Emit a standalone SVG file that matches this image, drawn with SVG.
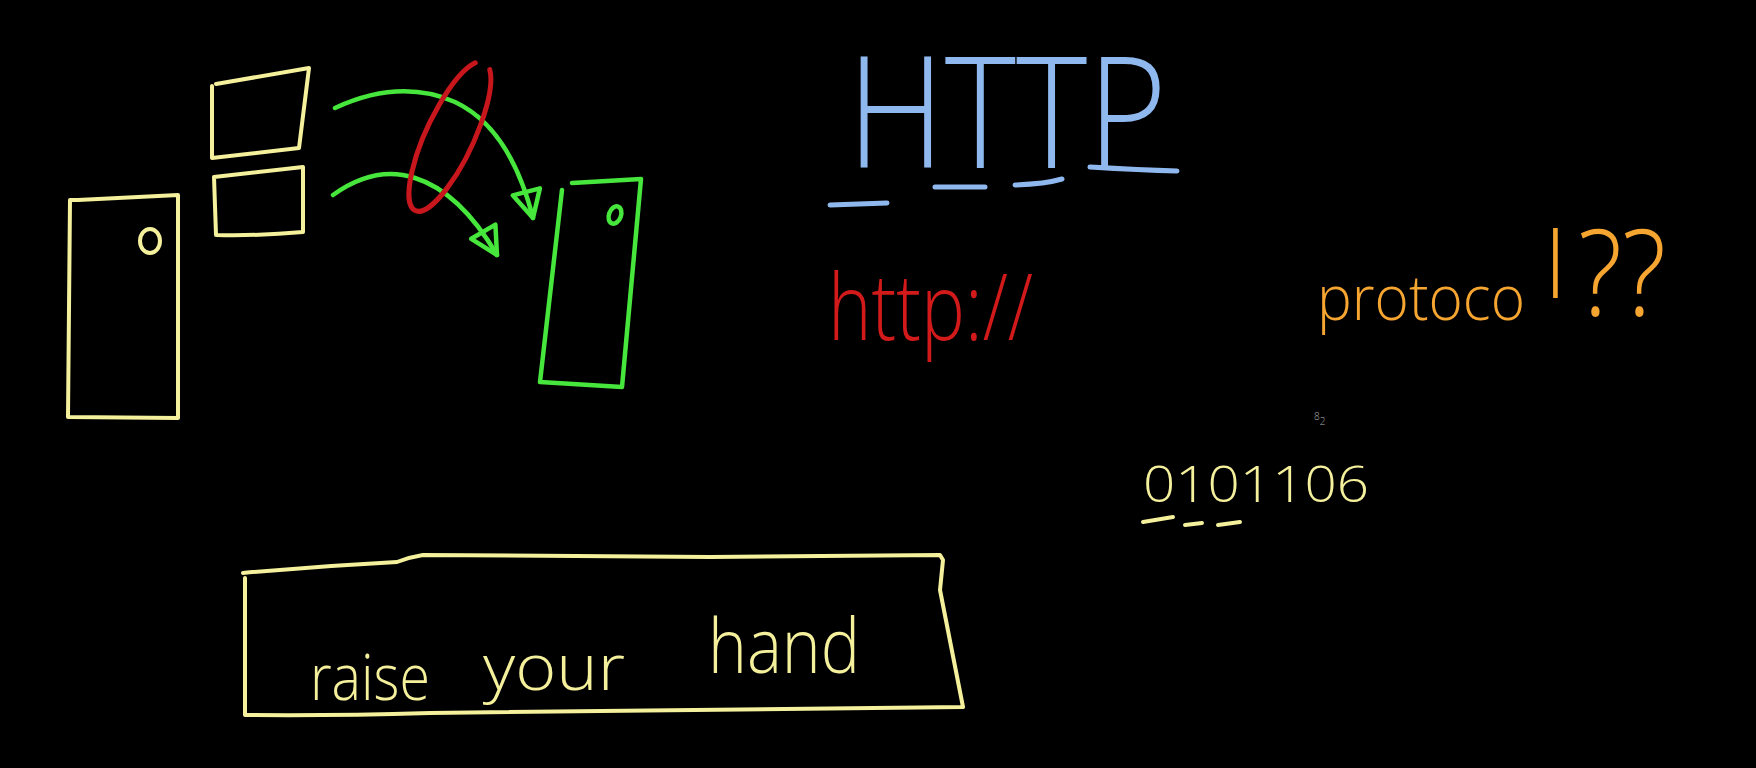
<svg xmlns="http://www.w3.org/2000/svg" width="1756" height="768" viewBox="0 0 1756 768">
<style>
.y{fill:none;stroke:#f4f09c;stroke-width:4;stroke-linecap:round;stroke-linejoin:round}
.g{fill:none;stroke:#46e63c;stroke-width:4.5;stroke-linecap:round;stroke-linejoin:round}
.r{fill:none;stroke:#c8161d;stroke-width:5;stroke-linecap:round}
.b{fill:none;stroke:#8fb8ee;stroke-width:5;stroke-linecap:round}
.t{font-family:"Open Sans","Liberation Sans",sans-serif;font-weight:300}
</style>
<defs>
<marker id="tri" viewBox="-32 -18 36 36" refX="0" refY="0" markerWidth="36" markerHeight="36" markerUnits="userSpaceOnUse" orient="auto" overflow="visible">
<path d="M-27,-14 L0,0 L-27,14 Z" fill="none" stroke="#46e63c" stroke-width="4.5" stroke-linejoin="round"/>
</marker>
</defs>
<rect width="1756" height="768" fill="#000"/>

<g id="left-device">
<path class="y" d="M78,200 L178,195 L178,418 L68,417 L70,200 Z"/>
<ellipse class="y" cx="150" cy="241" rx="10" ry="12" stroke-width="3.5"/>
</g>
<g id="packet-1">
<path class="y" d="M216,84 L309,68 L299,148 L212,158 L212,86"/>
</g>
<g id="packet-2">
<path class="y" d="M214,177 L303,167 L303,232 Q260,236 216,235 Z"/>
</g>
<g id="right-device">
<path class="g" d="M562,190 L540,382 L622,387 L641,179 L572,183"/>
<ellipse class="g" cx="615" cy="215" rx="6" ry="9" transform="rotate(20 615 215)" stroke-width="3"/>
</g>

<g id="connectors">
<path class="g" d="M335,108 Q400,78 455,102 Q510,128 533,218" marker-end="url(#tri)"/>
<path class="g" d="M333,195 Q375,165 415,178 Q460,192 497,255" marker-end="url(#tri)"/>
</g>

<g id="red-ellipse" transform="translate(450,136) rotate(25)">
<path class="r" d="M-8,-77 A24,82 0 1 0 8,-77"/>
</g>

<g id="http-title">
<text class="t" x="847" y="168" font-size="155" fill="#8fb8ee" textLength="320" lengthAdjust="spacingAndGlyphs">HTTP</text>
<path class="b" d="M830,205 L887,203 M935,187 L985,187 M1015,185 Q1045,184 1062,179 M1090,167 Q1140,170 1177,171"/>
</g>

<g id="http-url">
<text class="t" x="828" y="340" font-size="92" fill="#d21a1a" textLength="205" lengthAdjust="spacingAndGlyphs">http://</text>
</g>

<g id="protocol">
<text class="t" fill="#f6a531"><tspan x="1317" y="320" font-size="62" textLength="208" lengthAdjust="spacingAndGlyphs">protoco</tspan><tspan x="1545" y="298" font-size="92">l</tspan><tspan x="1578" y="316" font-size="120" textLength="88" lengthAdjust="spacingAndGlyphs">??</tspan></text>
</g>

<g id="note-82">
<text class="t" x="1314" y="420" font-size="10" fill="#aaaaaa">8<tspan dy="5">2</tspan></text>
</g>

<g id="binary">
<text class="t" x="1143" y="502" font-size="50" fill="#f4f09c" textLength="226" lengthAdjust="spacingAndGlyphs">0101106</text>
<path class="y" d="M1143,522 L1173,517 M1185,525 L1202,523 M1218,525 L1240,522"/>
</g>

<g id="raise-hand-box">
<path class="y" d="M243,573 Q320,566 397,562 Q410,557 423,555 L710,557 L940,555 L943,560 L940,590 L963,707 Q600,712 430,713 Q330,716 245,715 L245,578"/>
<text class="t" x="310" y="700" font-size="64" fill="#f4f09c" textLength="120" lengthAdjust="spacingAndGlyphs">raise</text>
<text class="t" x="483" y="690" font-size="64" fill="#f4f09c" textLength="142" lengthAdjust="spacingAndGlyphs">your</text>
<text class="t" x="708" y="673" font-size="76" fill="#f4f09c" textLength="152" lengthAdjust="spacingAndGlyphs">hand</text>
</g>
</svg>
